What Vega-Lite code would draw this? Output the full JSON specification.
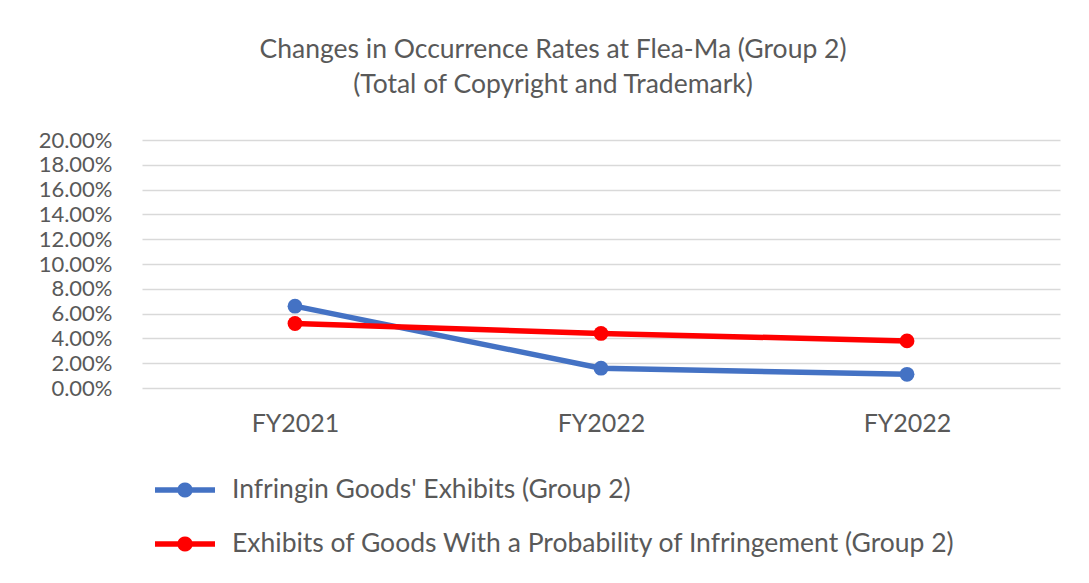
{
  "$schema": "https://vega.github.io/schema/vega-lite/v6.json",
  "width": 918,
  "height": 248,
  "autosize": {"type": "none"},
  "padding": {"left": 142, "top": 140, "right": 29, "bottom": 195},
  "background": "white",
  "title": {
    "text": ["Changes in Occurrence Rates at Flea-Ma (Group 2)", "(Total of Copyright and Trademark)"],
    "font": "Lato",
    "fontSize": 26.5,
    "fontWeight": "normal",
    "color": "#595959",
    "anchor": "middle",
    "frame": "group",
    "dx": -48,
    "lineHeight": 35,
    "offset": 31
  },
  "data": {
    "values": [
      {"period": "FY2021", "series": "Infringin Goods' Exhibits (Group 2)", "rate": 0.066},
      {"period": "FY2022", "series": "Infringin Goods' Exhibits (Group 2)", "rate": 0.016},
      {"period": "FY2022 ", "series": "Infringin Goods' Exhibits (Group 2)", "rate": 0.011},
      {"period": "FY2021", "series": "Exhibits of Goods With a Probability of Infringement (Group 2)", "rate": 0.052},
      {"period": "FY2022", "series": "Exhibits of Goods With a Probability of Infringement (Group 2)", "rate": 0.044},
      {"period": "FY2022 ", "series": "Exhibits of Goods With a Probability of Infringement (Group 2)", "rate": 0.038}
    ]
  },
  "mark": {"type": "line", "strokeWidth": 5.5, "point": {"filled": true, "size": 220}},
  "encoding": {
    "x": {
      "field": "period",
      "type": "nominal",
      "sort": null,
      "title": null,
      "axis": {
        "labelAngle": 0,
        "labelExpr": "trim(datum.label)",
        "labelFont": "Lato",
        "labelFontSize": 25,
        "labelColor": "#595959",
        "labelPadding": 23,
        "ticks": false,
        "domain": false,
        "grid": false
      }
    },
    "y": {
      "field": "rate",
      "type": "quantitative",
      "title": null,
      "scale": {"domain": [0, 0.2], "nice": false},
      "axis": {
        "format": ".2%",
        "values": [0, 0.02, 0.04, 0.06, 0.08, 0.1, 0.12, 0.14, 0.16, 0.18, 0.2],
        "labelFont": "Lato",
        "labelFontSize": 22,
        "labelColor": "#595959",
        "labelPadding": 30,
        "labelOverlap": false,
        "ticks": false,
        "domain": false,
        "grid": true,
        "gridColor": "#d9d9d9",
        "gridWidth": 1.5
      }
    },
    "color": {
      "field": "series",
      "type": "nominal",
      "sort": ["Infringin Goods' Exhibits (Group 2)", "Exhibits of Goods With a Probability of Infringement (Group 2)"],
      "scale": {"range": ["#4472C4", "#FF0000"]},
      "legend": {
        "title": null,
        "orient": "none",
        "legendX": 13,
        "legendY": 320,
        "direction": "vertical",
        "symbolType": "M-1,-0.09H-0.24A0.26,0.26 0 0,1 0.24,-0.09H1V0.09H0.24A0.26,0.26 0 0,1 -0.24,0.09H-1Z",
        "symbolSize": 3600,
        "symbolStrokeWidth": 0,
        "labelFont": "Lato",
        "labelFontSize": 26.5,
        "labelColor": "#595959",
        "labelOffset": 17,
        "rowPadding": 10,
        "labelLimit": 900,
        "encode": {"symbols": {"update": {"fill": {"scale": "color", "field": "value"}, "fillOpacity": {"value": 1}}}}
      }
    }
  },
  "config": {"view": {"stroke": null}}
}
